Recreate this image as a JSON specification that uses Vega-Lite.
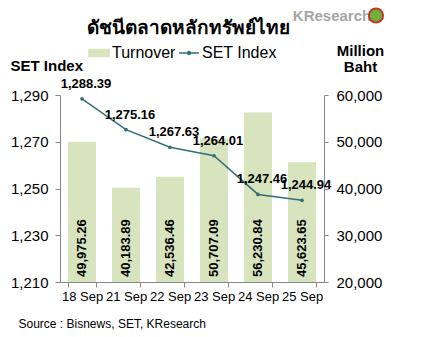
{
  "$schema": "https://vega.github.io/schema/vega-lite/v6.json",
  "width": 264,
  "height": 187,
  "autosize": {"type": "none"},
  "padding": {"left": 60, "top": 95, "right": 106, "bottom": 55},
  "config": {"font": "Liberation Sans", "view": {"stroke": null}},
  "title": {
    "text": "ดัชนีตลาดหลักทรัพย์ไทย",
    "fontSize": 19,
    "fontWeight": "bold",
    "color": "#000000",
    "font": "Noto Sans",
    "anchor": "middle",
    "dx": -4,
    "dy": 38,
    "offset": 4
  },
  "data": {
    "values": [
      {"date": "18 Sep", "turnover": 49975.26, "set": 1288.39},
      {"date": "21 Sep", "turnover": 40183.89, "set": 1275.16},
      {"date": "22 Sep", "turnover": 42536.46, "set": 1267.63},
      {"date": "23 Sep", "turnover": 50707.09, "set": 1264.01},
      {"date": "24 Sep", "turnover": 56230.84, "set": 1247.46},
      {"date": "25 Sep", "turnover": 45623.65, "set": 1244.94}
    ]
  },
  "encoding": {
    "x": {
      "field": "date",
      "type": "nominal",
      "sort": null,
      "scale": {"paddingInner": 0.364, "paddingOuter": 0.182},
      "axis": {
        "labelAngle": 0,
        "labelFontSize": 13,
        "labelColor": "#000000",
        "labelPadding": 3,
        "tickBand": "extent",
        "tickSize": 5,
        "tickColor": "#888888",
        "domainColor": "#888888",
        "title": "Source : Bisnews, SET, KResearch",
        "titleFontSize": 12,
        "titleFontWeight": "normal",
        "titleColor": "#000000",
        "titleX": -42,
        "titleY": 41,
        "titleAlign": "left",
        "titleBaseline": "middle"
      }
    }
  },
  "layer": [
    {
      "encoding": {
        "y": {
          "field": "turnover",
          "type": "quantitative",
          "scale": {"domain": [20000, 60000], "nice": false, "zero": false},
          "axis": {
            "orient": "right",
            "values": [20000, 30000, 40000, 50000, 60000],
            "format": ",.0f",
            "grid": false,
            "labelFontSize": 15,
            "labelColor": "#000000",
            "labelPadding": 8,
            "tickSize": 4,
            "tickColor": "#888888",
            "domainColor": "#888888",
            "title": ["Million", "Baht"],
            "titleFontSize": 15,
            "titleFontWeight": "bold",
            "titleColor": "#000000",
            "titleAngle": 0,
            "titleX": 36,
            "titleY": -52,
            "titleAlign": "center",
            "titleBaseline": "top",
            "titleLineHeight": 16
          }
        }
      },
      "layer": [
        {
          "mark": {"type": "bar"},
          "encoding": {
            "y2": {"datum": 20000},
            "color": {
              "datum": "Turnover",
              "scale": {"domain": ["Turnover", "SET Index"], "range": ["#d7e4bd", "#31707a"]},
              "legend": {
                "orient": "none",
                "legendX": 28,
                "legendY": -53,
                "direction": "horizontal",
                "title": null,
                "labelFont": "Liberation Sans",
                "labelFontSize": 16,
                "labelColor": "#000000",
                "symbolSize": 400,
                "labelOffset": 2,
                "columnPadding": 0,
                "encode": {
                  "symbols": {
                    "update": {
                      "shape": {"signal": "datum.value === 'Turnover' ? 'M-1,-0.35H1V0.35H-1Z' : 'M-1,0H1M-0.15,0A0.15,0.15,0,1,1,0.15,0A0.15,0.15,0,1,1,-0.15,0Z'"},
                      "fill": {"signal": "datum.value === 'Turnover' ? '#d7e4bd' : '#31707a'"},
                      "stroke": {"signal": "datum.value === 'Turnover' ? 'transparent' : '#31707a'"},
                      "strokeWidth": {"value": 1.5},
                      "opacity": {"value": 1},
                      "fillOpacity": {"value": 1}
                    }
                  }
                }
              }
            }
          }
        },
        {
          "mark": {"type": "text", "angle": 270, "align": "left", "baseline": "middle", "dx": 5, "fontSize": 13, "fontWeight": "bold", "color": "#000000"},
          "encoding": {
            "y": {"datum": 20000},
            "text": {"field": "turnover", "type": "quantitative", "format": ",.2f"}
          }
        }
      ]
    },
    {
      "encoding": {
        "y": {
          "field": "set",
          "type": "quantitative",
          "scale": {"domain": [1210, 1290], "nice": false, "zero": false},
          "axis": {
            "orient": "left",
            "values": [1210, 1230, 1250, 1270, 1290],
            "format": ",.0f",
            "grid": false,
            "labelFontSize": 15,
            "labelColor": "#000000",
            "labelPadding": 7,
            "tickSize": 5,
            "tickColor": "#888888",
            "domainColor": "#888888",
            "title": "SET Index",
            "titleFontSize": 15,
            "titleFontWeight": "bold",
            "titleColor": "#000000",
            "titleAngle": 0,
            "titleX": -50,
            "titleY": -30,
            "titleAlign": "left",
            "titleBaseline": "middle"
          }
        }
      },
      "layer": [
        {
          "mark": {"type": "line", "strokeWidth": 1.5},
          "encoding": {"color": {"datum": "SET Index"}}
        },
        {
          "mark": {"type": "point", "filled": true, "size": 14, "opacity": 1},
          "encoding": {"color": {"datum": "SET Index"}}
        },
        {
          "mark": {"type": "text", "dx": 4, "dy": -15, "fontSize": 13, "fontWeight": "bold", "color": "#000000"},
          "encoding": {"text": {"field": "set", "type": "quantitative", "format": ",.2f"}}
        },
        {
          "transform": [{"filter": "datum.date === '25 Sep'"}],
          "mark": {"type": "text", "dx": 30, "fontSize": 15, "fontWeight": "bold", "color": "#a6a6a6", "baseline": "middle"},
          "encoding": {
            "y": {"datum": 1324},
            "text": {"value": "KResearch"}
          }
        },
        {
          "transform": [{"filter": "datum.date === '25 Sep'"}],
          "mark": {"type": "point", "filled": true, "size": 200, "fill": "#6fb03a", "stroke": "#c0392b", "strokeWidth": 2, "opacity": 1, "xOffset": 74},
          "encoding": {
            "y": {"datum": 1324}
          }
        }
      ]
    }
  ],
  "resolve": {"scale": {"y": "independent"}}
}
